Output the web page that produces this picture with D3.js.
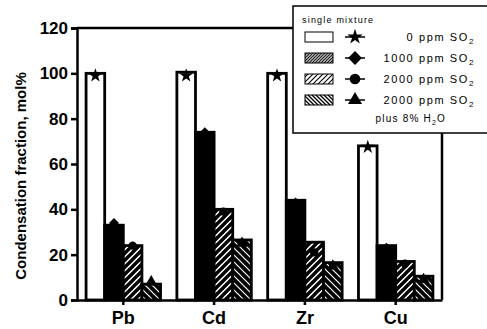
<html>
<head>
    <meta charset="UTF-8" />
    <script src="https://d3js.org/d3.v7.min.js"></script>
    <style>
        body { margin: 0; background: white; }
        text { font-family: "Liberation Sans", Arial, sans-serif; }
        .axis .domain { stroke: black; stroke-width: 2.5; }
        .axis line { stroke: black; stroke-width: 2.5; }
        .axis text { font-size: 17px; font-weight: bold; fill: black; }
    </style>
</head>
<body>
    <svg id="svg" width="487" height="329"></svg>
    <script>
        // data
        const metals = ["Pb", "Cd", "Zr", "Cu"];
        const ppmLabels = ["0", "1000", "2000", "2000"];
        // bars: single metal
        const single0 = [100, 100.5, 100, 68];
        const single1000 = [33, 74, 44, 24];
        const single2000 = [24, 40, 25.5, 17];
        const single2000w = [7, 26.5, 16.5, 10.5];
        // markers: mixture
        const mix0 = [99, 99, 99, 67.5];
        const mix1000 = [34, 74, 43, 23];
        const mix2000 = [24, 39, 21, 16];
        const mix2000w = [8, 25, 15, 9];
        const yTicks = [0, 20, 40, 60, 80, 100, 120];

        const svg = d3.select("svg#svg");
        const margin = {top: 28, right: 45, bottom: 29, left: 77};
        const chartWidth = 487 - margin.left - margin.right;
        const chartHeight = 329 - margin.top - margin.bottom;

        // patterns
        const defs = svg.append("defs");
        function hatch(id, size, bg, fg, w, back) {
            let p = defs.append("pattern").attr("id", id)
                .attr("patternUnits", "userSpaceOnUse")
                .attr("width", size).attr("height", size);
            p.append("rect").attr("width", size).attr("height", size).attr("fill", bg);
            let d = back
                ? `M${-size/2},${size/2} L${size/2},${size*1.5} M0,0 L${size},${size} M${size/2},${-size/2} L${size*1.5},${size/2}`
                : `M${-size/2},${size/2} L${size/2},${-size/2} M0,${size} L${size},0 M${size/2},${size*1.5} L${size*1.5},${size/2}`;
            p.append("path").attr("d", d).attr("stroke", fg).attr("stroke-width", w);
        }
        hatch("fwd", 7, "white", "black", 3.4, false);
        hatch("bck", 7, "black", "white", 1.2, true);
        hatch("lgDense", 3, "white", "#222", 1.3, false);
        hatch("lgFwd", 5, "white", "black", 1.1, false);
        hatch("lgBck", 4, "white", "black", 1.3, true);

        const barFills = ["white", "black", "url(#fwd)", "url(#bck)"];
        const legendFills = ["white", "url(#lgDense)", "url(#lgFwd)", "url(#lgBck)"];
        // diamond drawn as a square turned 45 degrees
        const symbols = [d3.symbolStar, d3.symbolSquare, d3.symbolCircle, d3.symbolTriangle];
        const turns = [0, 45, 0, 0];
        const symbolSizes = [60, 50, 55, 60];
        const legendSizes = [75, 95, 90, 85];

        const bars = [single0, single1000, single2000, single2000w];
        const mixes = [mix0, mix1000, mix2000, mix2000w];

        const x0 = d3.scaleBand().domain(metals).range([0, chartWidth])
            .paddingInner(0.18).paddingOuter(0.1);
        const x1 = d3.scaleBand().domain(d3.range(4)).range([0, x0.bandwidth()]);
        const y = d3.scaleLinear().domain([0, 120]).range([chartHeight, 0]);

        const chart = svg.append("g")
            .attr("transform", "translate(" + margin.left + "," + margin.top + ")");

        // frame top and right
        chart.append("path")
            .attr("d", `M0,0 H${chartWidth} V${chartHeight}`)
            .attr("fill", "none").attr("stroke", "black").attr("stroke-width", 2.5);

        const rows = [];
        metals.forEach((m, i) => {
            for (let s = 0; s < 4; s++) {
                rows.push({metal: m, s: s, bar: bars[s][i], mix: mixes[s][i]});
            }
        });

        chart.selectAll("rect.bar").data(rows)
            .join("rect")
            .attr("class", "bar")
            .attr("x", d => x0(d.metal) + x1(d.s))
            .attr("y", d => y(d.bar))
            .attr("width", x1.bandwidth())
            .attr("height", d => chartHeight - y(d.bar))
            .attr("fill", d => barFills[d.s])
            .attr("stroke", "black")
            .attr("stroke-width", 2.8);

        chart.selectAll("path.mark").data(rows)
            .join("path")
            .attr("class", "mark")
            .attr("d", d => d3.symbol().type(symbols[d.s]).size(symbolSizes[d.s])())
            .attr("transform", d => "translate(" + (x0(d.metal) + x1(d.s) + x1.bandwidth()/2) + "," + y(d.mix) + ") rotate(" + turns[d.s] + ")")
            .attr("fill", "black");

        // axes
        chart.append("g").attr("class", "axis")
            .call(d3.axisLeft(y).tickValues(yTicks).tickSize(6).tickPadding(3));

        let bottom = chart.append("g").attr("class", "axis")
            .attr("transform", "translate(0," + chartHeight + ")")
            .call(d3.axisBottom(x0).tickSize(5).tickPadding(6).tickSizeOuter(0));
        bottom.selectAll("text").style("font-size", "18px");

        // y axis title
        svg.append("text")
            .attr("transform", "rotate(-90)")
            .attr("x", -176)
            .attr("y", 26)
            .attr("text-anchor", "middle")
            .style("font-size", "15px")
            .style("font-weight", "bold")
            .text("Condensation fraction, mol%");

        // legend
        const lg = svg.append("g").attr("transform", "translate(293,6)");
        lg.append("rect").attr("width", 200).attr("height", 127)
            .attr("fill", "white").attr("stroke", "black").attr("stroke-width", 1.5);
        lg.append("text").attr("x", 9).attr("y", 17)
            .style("font-size", "9px").style("letter-spacing", "1.2px")
            .text("single mixture");

        const item = lg.selectAll("g.item").data(d3.range(4))
            .join("g").attr("class", "item")
            .attr("transform", d => "translate(0," + (31 + d * 21) + ")");
        item.append("rect").attr("x", 12).attr("y", -5).attr("width", 28).attr("height", 10)
            .attr("fill", d => legendFills[d]).attr("stroke", "black").attr("stroke-width", 1);
        item.append("line").attr("x1", 52).attr("x2", 72).attr("y1", 0).attr("y2", 0)
            .attr("stroke", "black").attr("stroke-width", 1.5);
        item.append("path")
            .attr("d", d => d3.symbol().type(symbols[d]).size(legendSizes[d])())
            .attr("transform", d => "translate(62,0) rotate(" + turns[d] + ")")
            .attr("fill", "black");
        const lt = item.append("text").attr("x", 182).attr("y", 4)
            .attr("text-anchor", "end")
            .style("font-size", "11px").style("letter-spacing", "1.6px");
        lt.append("tspan").text(d => ppmLabels[d] + " ppm SO");
        lt.append("tspan").attr("dy", 3).style("font-size", "8px").text("2");

        const pl = lg.append("text").attr("x", 153).attr("y", 116)
            .attr("text-anchor", "end")
            .style("font-size", "10px").style("letter-spacing", "1.2px");
        pl.append("tspan").text("plus 8% H");
        pl.append("tspan").attr("dy", 3).style("font-size", "7px").text("2");
        pl.append("tspan").attr("dy", -3).text("O");
    </script>
</body>
</html>
